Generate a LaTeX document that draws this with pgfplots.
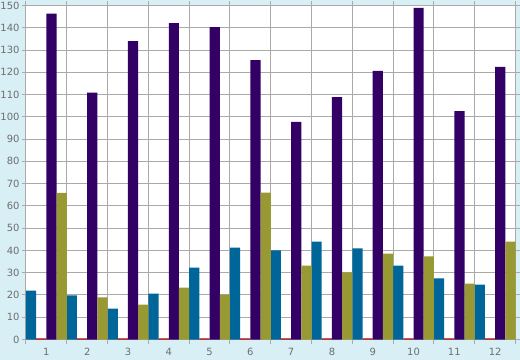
\documentclass[border=0pt]{standalone}
\usepackage{pgfplots}
\pgfplotsset{compat=1.18}
\usepackage{fontspec}
\setmainfont{DejaVu Sans}
\definecolor{bgblue}{RGB}{217,239,246}
\definecolor{gridgray}{RGB}{170,170,170}
\definecolor{labgray}{RGB}{110,110,110}
\definecolor{sblue}{RGB}{0,102,153}
\definecolor{sred}{RGB}{170,0,0}
\definecolor{spurple}{RGB}{51,0,102}
\definecolor{solive}{RGB}{153,153,51}
\begin{document}
\begin{tikzpicture}
\fill[bgblue] (-26bp,-20.5bp) rectangle (494bp,339.5bp);
\begin{axis}[
  at={(0,0)}, anchor=south west,
  scale only axis, width=489.5bp, height=334bp,
  axis background/.style={fill=white},
  ybar, bar width=0.25,
  xmin=0.5, xmax=12.5, ymin=0, ymax=150,
  xtick={1,...,12}, major x tick style={draw=none},
  minor xtick={0.5,1.5,...,12.5},
  minor x tick style={gridgray, line width=1bp},
  x tick style={gridgray},
  xminorgrids, ymajorgrids,
  ytick={0,10,...,150},
  y tick style={gridgray, line width=1bp},
  tick align=outside, major tick length=4bp, minor tick length=4bp,
  grid style={gridgray, line width=1bp},
  axis line style={gridgray, line width=1bp},
  tick label style={font=\fontsize{10}{12}\selectfont, text=labgray},
  xticklabel style={yshift=-1bp},
  yticklabel style={xshift=1bp},
  /pgf/number format/assume math mode=true,
  axis on top=false,
]
\addplot[fill=sblue, draw=none, bar shift=-0.375] coordinates {
(1,22) (2,19.8) (3,13.9) (4,20.6) (5,32.3) (6,41.3) (7,40) (8,44) (9,40.9) (10,33.2) (11,27.4) (12,24.7)};
\addplot[fill=sred, draw=none, bar shift=-0.125] coordinates {
(1,0.5) (2,0.5) (3,0.5) (4,0.5) (5,0.5) (6,0.5) (7,0.5) (8,0.5) (9,0.5) (10,0.5) (11,0.5) (12,0.5)};
\addplot[fill=spurple, draw=none, bar shift=0.125] coordinates {
(1,146.4) (2,110.9) (3,134.0) (4,142.1) (5,140.3) (6,125.5) (7,97.7) (8,108.9) (9,120.6) (10,148.9) (11,102.6) (12,122.4)};
\addplot[fill=solive, draw=none, bar shift=0.375] coordinates {
(1,65.9) (2,18.9) (3,15.7) (4,23.3) (5,20.2) (6,66) (7,33.2) (8,30.1) (9,38.6) (10,37.3) (11,25.1) (12,44)};
\end{axis}
\pgfresetboundingbox
\path[use as bounding box] (-26bp,-20.5bp) rectangle (494bp,339.5bp);
\end{tikzpicture}
\end{document}
